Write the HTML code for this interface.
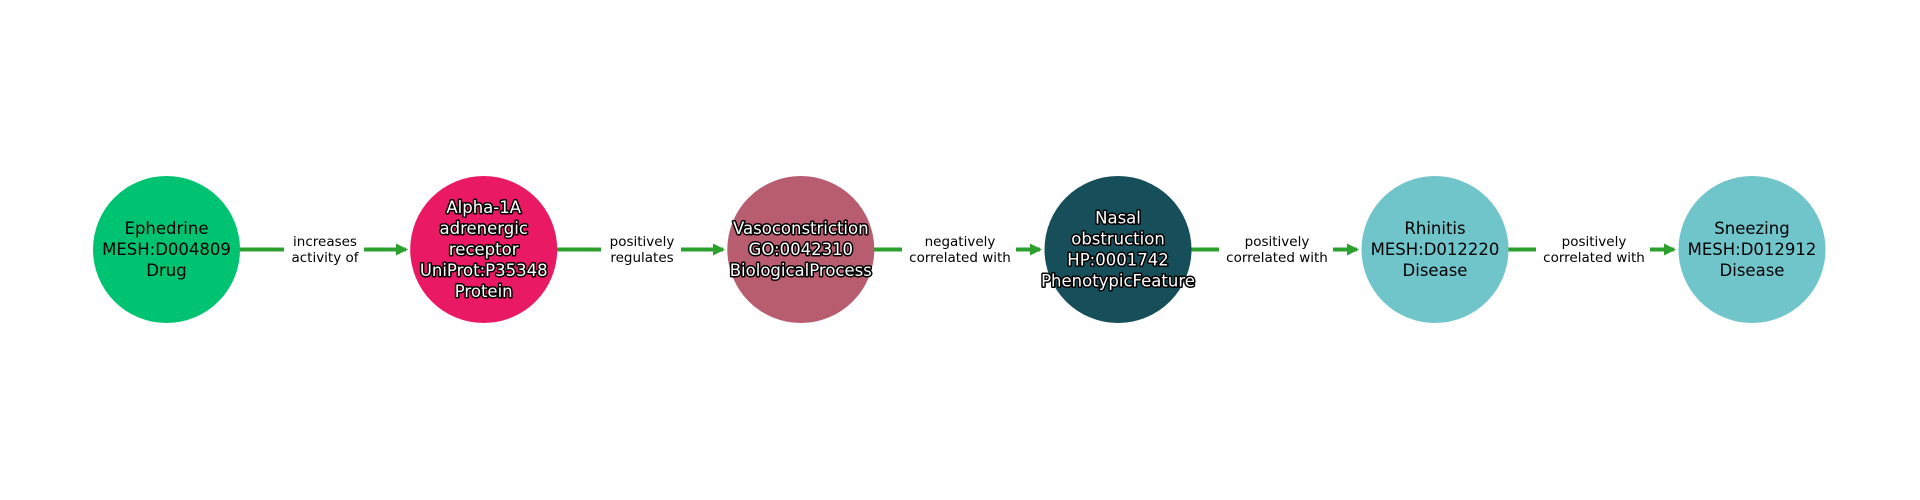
<!DOCTYPE html>
<html><head><style>html,body{margin:0;padding:0;background:#fff;}svg{display:block}</style></head>
<body>
<svg width="1920" height="500" viewBox="0 0 1920 500" xmlns="http://www.w3.org/2000/svg" font-family="DejaVu Sans, Liberation Sans, sans-serif">
<defs>
<marker id="a" markerWidth="3" markerHeight="3" refX="2.5" refY="1.5" orient="auto" markerUnits="strokeWidth"><path d="M0,0 L3,1.5 L0,3 Z" fill="#2ca02c"/></marker>
</defs>
<g stroke="#2ca02c" stroke-width="4" fill="none">
<line x1="240" y1="249.5" x2="406" y2="249.5" marker-end="url(#a)"/>
<line x1="557" y1="249.5" x2="723" y2="249.5" marker-end="url(#a)"/>
<line x1="874" y1="249.5" x2="1040" y2="249.5" marker-end="url(#a)"/>
<line x1="1191" y1="249.5" x2="1357" y2="249.5" marker-end="url(#a)"/>
<line x1="1508" y1="249.5" x2="1674" y2="249.5" marker-end="url(#a)"/>
</g>
<g fill="#fff">
<rect x="284" y="232" width="80" height="36"/>
<rect x="601" y="232" width="80" height="36"/>
<rect x="902" y="232" width="114" height="36"/>
<rect x="1219" y="232" width="114" height="36"/>
<rect x="1536" y="232" width="114" height="36"/>
</g>
<g font-size="13.5" text-anchor="middle" fill="#000">
<text x="325" y="246">increases</text><text x="325" y="262">activity of</text>
<text x="642" y="246">positively</text><text x="642" y="262">regulates</text>
<text x="960" y="246">negatively</text><text x="960" y="262">correlated with</text>
<text x="1277" y="246">positively</text><text x="1277" y="262">correlated with</text>
<text x="1594" y="246">positively</text><text x="1594" y="262">correlated with</text>
</g>
<circle cx="166.5" cy="249.5" r="73.5" fill="#00c372"/>
<circle cx="483.7" cy="249.5" r="73.5" fill="#e91a63"/>
<circle cx="800.8" cy="249.5" r="73.5" fill="#b85c70"/>
<circle cx="1118" cy="249.5" r="73.5" fill="#164f5a"/>
<circle cx="1435" cy="249.5" r="73.5" fill="#70c5cb"/>
<circle cx="1752" cy="249.5" r="73.5" fill="#70c5cb"/>
<g font-size="16.5" text-anchor="middle" fill="#000">
<text x="166.5" y="234">Ephedrine</text><text x="166.5" y="255">MESH:D004809</text><text x="166.5" y="276">Drug</text>
<text x="1435" y="234">Rhinitis</text><text x="1435" y="255">MESH:D012220</text><text x="1435" y="276">Disease</text>
<text x="1752" y="234">Sneezing</text><text x="1752" y="255">MESH:D012912</text><text x="1752" y="276">Disease</text>
</g>
<g font-size="16.5" text-anchor="middle" fill="#fff" stroke="#000" stroke-width="3" paint-order="stroke" stroke-linejoin="round">
<text x="483.7" y="213">Alpha-1A</text><text x="483.7" y="234">adrenergic</text><text x="483.7" y="255">receptor</text><text x="483.7" y="276">UniProt:P35348</text><text x="483.7" y="297">Protein</text>
<text x="800.8" y="234">Vasoconstriction</text><text x="800.8" y="255">GO:0042310</text><text x="800.8" y="276">BiologicalProcess</text>
<text x="1118" y="223.5">Nasal</text><text x="1118" y="244.5">obstruction</text><text x="1118" y="265.5">HP:0001742</text><text x="1118" y="286.5">PhenotypicFeature</text>
</g>
</svg>
</body></html>
